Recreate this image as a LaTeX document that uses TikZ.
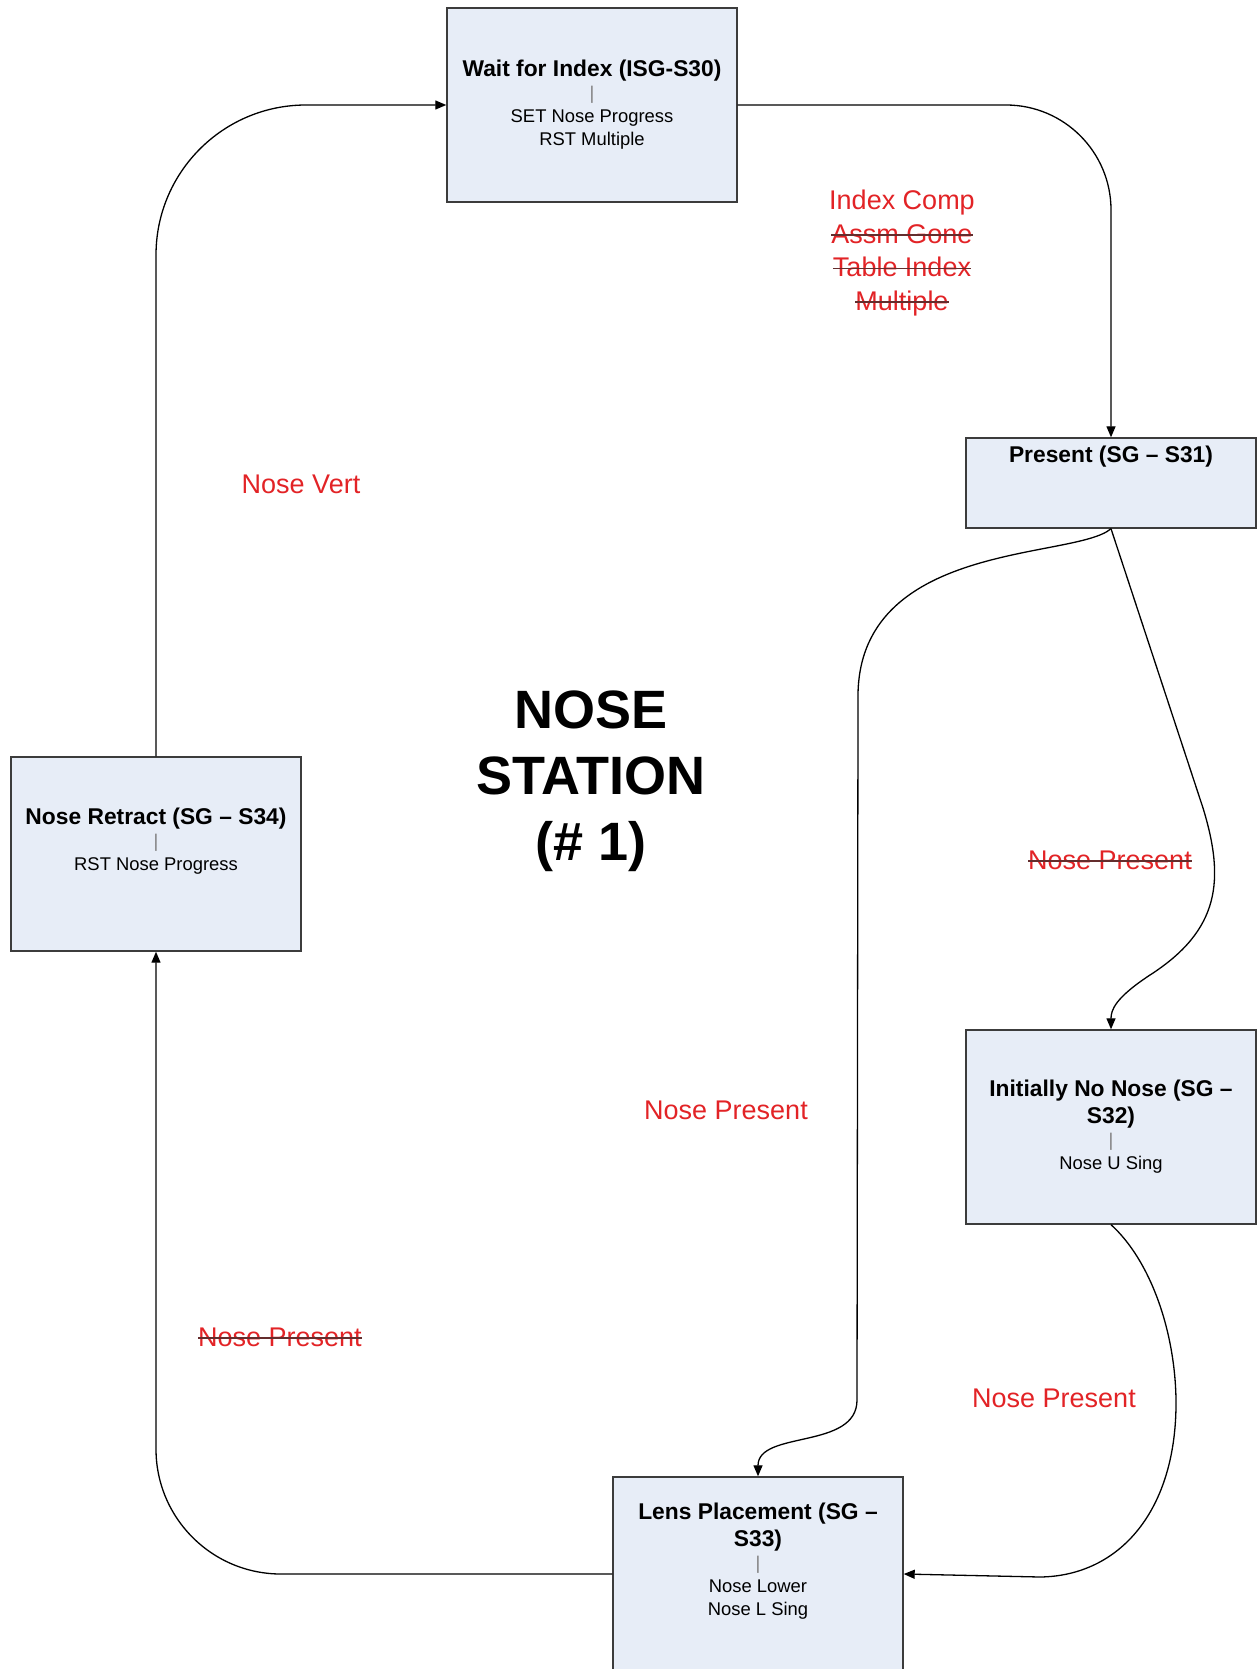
\documentclass[tikz,border=0pt]{standalone}
\usepackage{fontspec}
\setmainfont{Liberation Sans}
\usetikzlibrary{arrows.meta}
\definecolor{boxfill}{RGB}{231,237,247}
\definecolor{boxline}{RGB}{60,60,60}
\definecolor{labelred}{RGB}{226,35,38}
\definecolor{strikeline}{RGB}{100,45,45}
\newsavebox\crossbox
\newcommand\crossed[1]{\sbox\crossbox{#1}\rlap{\usebox\crossbox}\textcolor{strikeline}{\rule[0.28em]{\wd\crossbox}{1.2pt}}}
\newcommand\boxtitle[1]{{\fontsize{22.8}{27}\selectfont\bfseries #1}}
\newcommand\barsep{\textcolor{gray}{|}}
\tikzset{
  stage/.style={draw=boxline,fill=boxfill,line width=1.4pt,minimum width=290pt,minimum height=194pt,align=center,inner sep=4pt,font=\fontsize{18.4}{23}\selectfont},
  arrow/.style={-{Triangle[length=11pt,width=9pt]},line width=1.3pt},
  cond/.style={text=labelred,align=center,font=\fontsize{27}{33.5}\selectfont},
  bigtitle/.style={align=center,font=\fontsize{54}{66}\selectfont\bfseries}
}
\begin{document}
\begin{tikzpicture}[x=1pt,y=-1pt]
\useasboundingbox (0,0) rectangle (1259,1669);
\node[stage] (wait) at (592,105) {\boxtitle{Wait for Index (ISG-S30)}\\\barsep\\SET Nose Progress\\RST Multiple};
\node[stage,minimum height=90pt,text height=16pt,text depth=58pt] (present) at (1111,483) {\boxtitle{Present (SG – S31)}};
\node[stage] (retract) at (156,854) {\boxtitle{Nose Retract (SG – S34)}\\\barsep\\RST Nose Progress\\\strut};
\node[stage] (initially) at (1111,1127) {\boxtitle{Initially No Nose (SG –}\\[4pt]\boxtitle{S32)}\\\barsep\\Nose U Sing};
\node[stage] (lens) at (758,1574) {\boxtitle{Lens Placement (SG –}\\[4pt]\boxtitle{S33)}\\\barsep\\Nose Lower\\Nose L Sing\\\strut};
\node[cond] (idxcond) at (902,253) {Index Comp\\\crossed{Assm Gone}\\\crossed{Table Index}\\\crossed{Multiple}};
\node[cond] (vertcond) at (301,484) {Nose Vert};
\node[bigtitle] (station) at (591,781) {NOSE\\STATION\\(\# 1)};
\node[cond] (presa) at (1110,860) {\crossed{Nose Present}};
\node[cond] (presb) at (726,1110) {Nose Present};
\node[cond] (presc) at (280,1337) {\crossed{Nose Present}};
\node[cond] (presd) at (1054,1398) {Nose Present};
\draw[arrow,rounded corners=105pt] (wait.east) -| (present.north);
\draw[arrow] (present.south) .. controls (1075,560) and (855,540) .. (858,700) -- (857,1400) .. controls (857,1450) and (758,1430) .. (lens.north);
\draw[arrow] (present.south) -- (1203,808) .. controls (1225,880) and (1220,930) .. (1150,975) .. controls (1115,998) and (1111,1010) .. (initially.north);
\draw[arrow] (initially.south) .. controls (1150,1260) and (1175,1330) .. (1176,1400) .. controls (1177,1510) and (1120,1576) .. (1040,1577) -- (lens.east);
\draw[arrow,rounded corners=125pt] (lens.west) -| (retract.south);
\draw[arrow,rounded corners=150pt] (retract.north) |- (wait.west);
\end{tikzpicture}
\end{document}
